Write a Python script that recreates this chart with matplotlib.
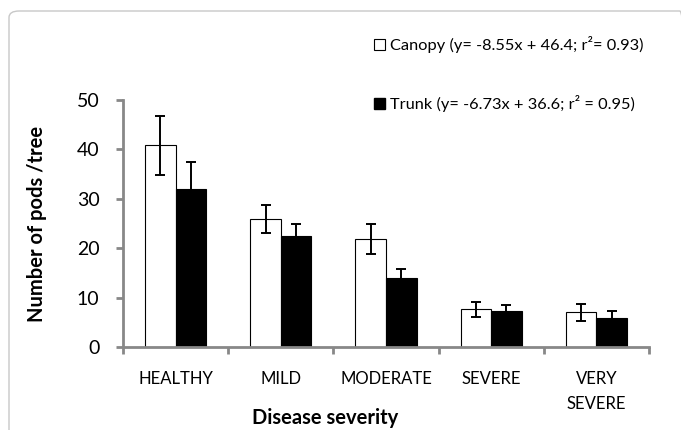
import matplotlib
matplotlib.use("Agg")
import matplotlib.pyplot as plt
from matplotlib.patches import FancyBboxPatch, Patch
import numpy as np

categories = ["HEALTHY", "MILD", "MODERATE", "SEVERE", "VERY\nSEVERE"]
canopy = [40.8, 25.9, 21.9, 7.6, 7.0]
canopy_err = [5.9, 2.8, 3.0, 1.6, 1.7]
trunk = [32.0, 22.4, 13.9, 7.3, 5.8]
trunk_err = [5.4, 2.5, 1.8, 1.3, 1.4]
canopy_label = "Canopy (y= -8.55x + 46.4; r\u00b2= 0.93)"
trunk_label = "Trunk (y= -6.73x + 36.6; r\u00b2 = 0.95)"

plt.rcParams['font.family'] = ['Lato', 'DejaVu Sans']

fig = plt.figure(figsize=(6.81, 4.30), dpi=100)
fig.patches.append(FancyBboxPatch((9/681, -0.2), 1.0, 1 - 11/430 + 0.2,
                                  boxstyle="round,pad=0,rounding_size=0.015",
                                  transform=fig.transFigure, fill=False,
                                  edgecolor="#c8c8c8", linewidth=1.0))
ax = fig.add_axes([123/681, 1 - 347/430, (649 - 123)/681, (347 - 100)/430])

x = np.arange(len(categories))
w = 0.29
ax.bar(x - w/2, canopy, w, color="white", edgecolor="black", linewidth=0.8,
       yerr=canopy_err, error_kw=dict(ecolor="black", elinewidth=1.4, capsize=3.5, capthick=1.4), zorder=2)
ax.bar(x + w/2, trunk, w, color="black", edgecolor="black", linewidth=0.8,
       yerr=trunk_err, error_kw=dict(ecolor="black", elinewidth=1.4, capsize=3.5, capthick=1.4), zorder=2)

ax.set_xlim(-0.5, len(categories) - 0.5)
ax.set_ylim(0, 50)
ax.set_yticks(range(0, 51, 10))
ax.set_xticks(np.arange(-0.5, len(categories), 1.0))
ax.set_xticklabels([])
ax.set_xticks(x, minor=True)
ax.set_xticklabels(categories, minor=True, fontsize=12, linespacing=1.7, va="top")
ax.tick_params(axis="x", which="minor", length=0, pad=17)
ax.tick_params(axis="x", which="major", length=5, width=2, color="#888888", direction="out")
ax.tick_params(axis="y", length=5, width=2, color="#888888", direction="out", labelsize=14, pad=12)

for s in ["top", "right"]:
    ax.spines[s].set_visible(False)
for s in ["left", "bottom"]:
    ax.spines[s].set_color("#888888")
    ax.spines[s].set_linewidth(2)

ax.set_ylabel("Number of pods /tree", fontsize=14.5, fontweight="bold")
ax.yaxis.set_label_coords((47 - 123) / 526, 0.5)
ax.set_xlabel("Disease severity", fontsize=14.5, fontweight="bold")
ax.xaxis.set_label_coords((325 - 123) / 526, (347 - 418) / 247)
ax.xaxis.label.set_va("center")

handles = [Patch(facecolor="white", edgecolor="black", linewidth=0.8),
           Patch(facecolor="black", edgecolor="black")]
leg = fig.legend(handles, [canopy_label, trunk_label], loc="upper left",
                 bbox_to_anchor=(374/681, 1 - 36/430), frameon=False, fontsize=11.8,
                 handlelength=0.65, handleheight=0.65, handletextpad=0.3, labelspacing=2.55,
                 borderaxespad=0, borderpad=0)

fig.savefig("out.png", dpi=100)
